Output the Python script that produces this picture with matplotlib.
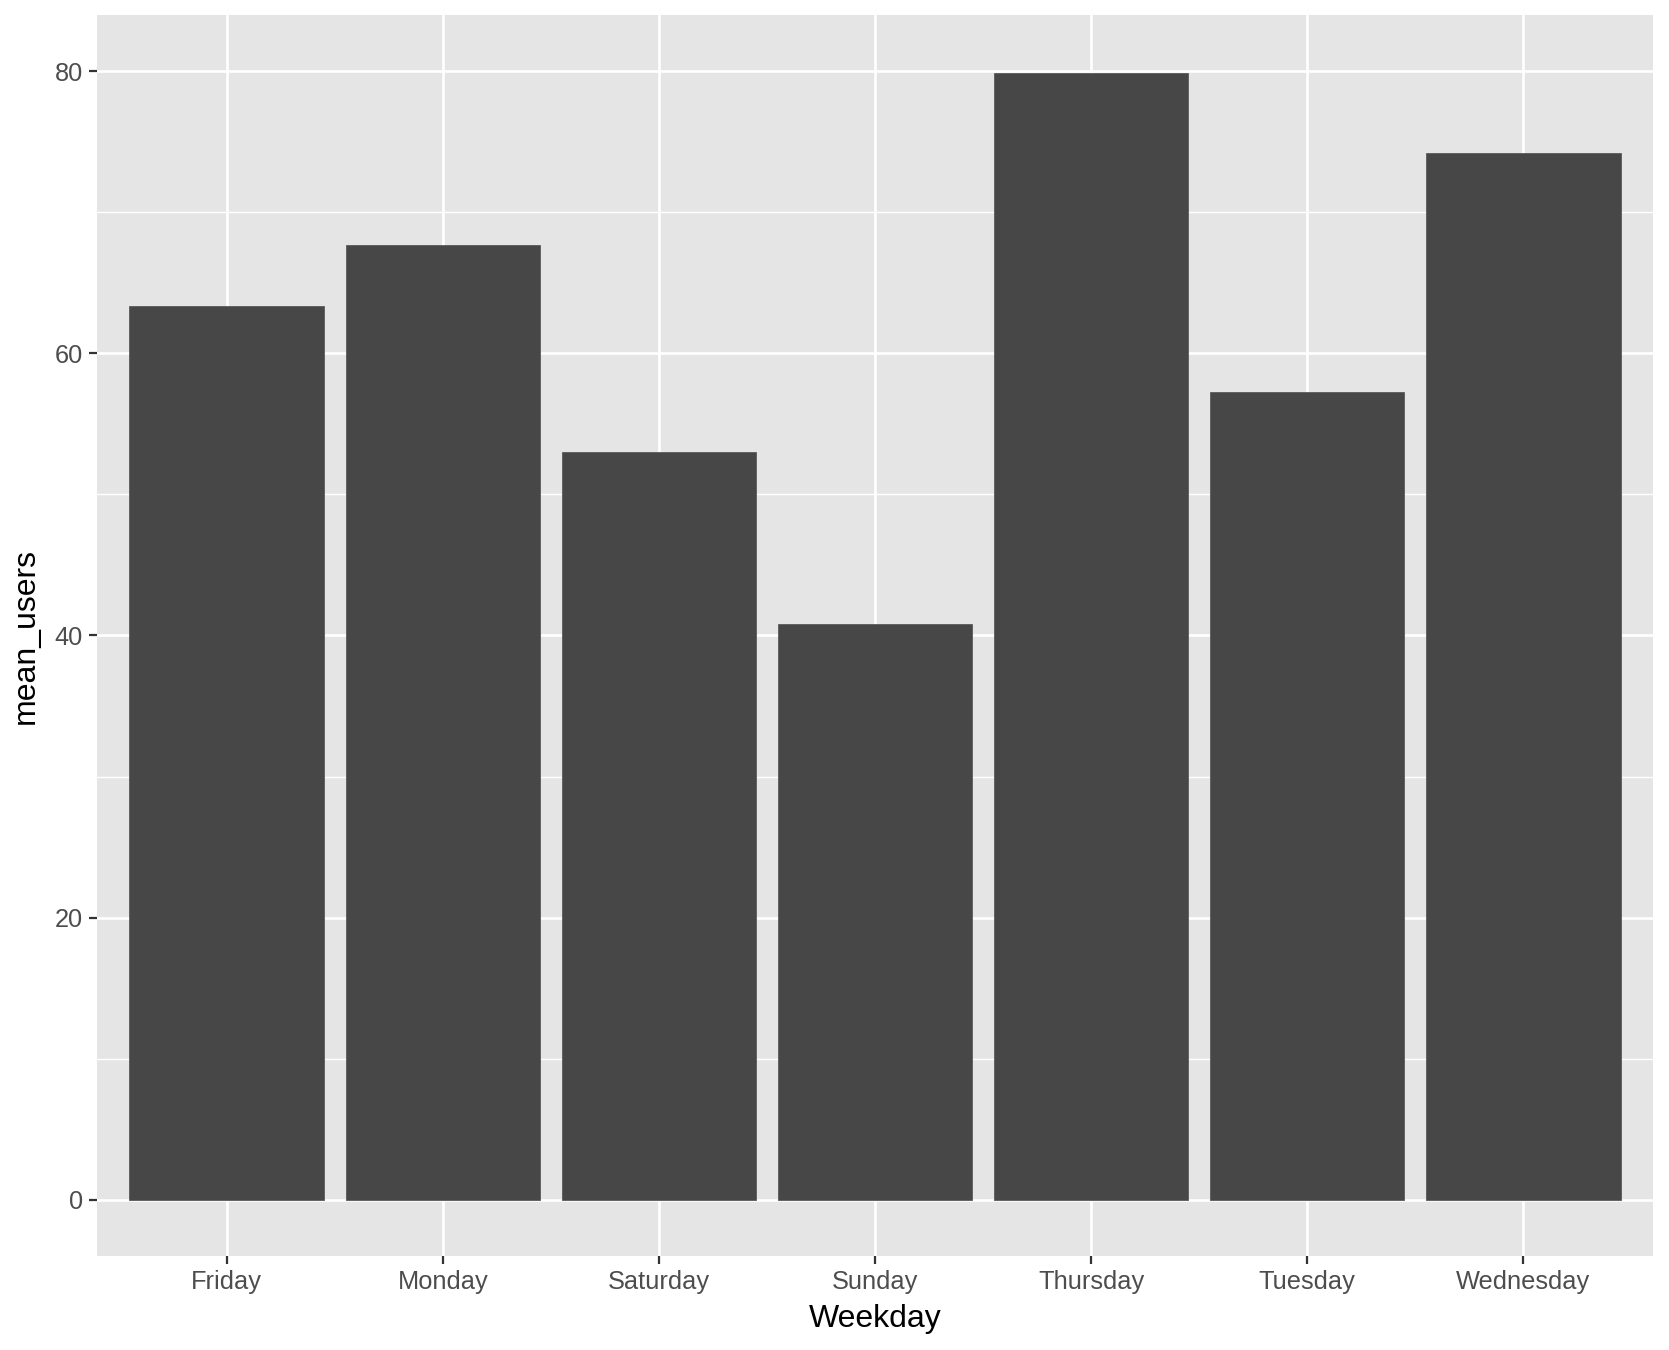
import matplotlib
matplotlib.use("Agg")
import matplotlib.pyplot as plt
from matplotlib.ticker import MultipleLocator

weekdays = ["Friday", "Monday", "Saturday", "Sunday", "Thursday", "Tuesday", "Wednesday"]
mean_users = [63.35, 67.7, 53.0, 40.8, 79.9, 57.3, 74.2]
y_ticks = [0, 20, 40, 60, 80]

plt.rcParams['font.family'] = ['Liberation Sans', 'DejaVu Sans']

fig = plt.figure(figsize=(16.69, 13.5), dpi=100)
ax = fig.add_axes([97/1669, 94/1350, (1653-97)/1669, (1256-15)/1350])
ax.set_facecolor('#E5E5E5')
fig.patch.set_facecolor('white')

x = list(range(1, len(weekdays) + 1))
ax.bar(x, mean_users, width=0.9, color='#474747', edgecolor='#5a5a5a', linewidth=0.6, zorder=3)

ax.set_xlim(0.4, 7.6)
ax.set_ylim(-4, 84)
ax.set_xticks(x)
ax.set_xticklabels(weekdays)
ax.set_yticks(y_ticks)
ax.yaxis.set_minor_locator(MultipleLocator(10))

ax.grid(which='major', color='white', linewidth=1.9, zorder=1)
ax.grid(which='minor', axis='y', color='white', linewidth=1.0, zorder=1)
ax.set_axisbelow(True)
for s in ax.spines.values():
    s.set_visible(False)

ax.tick_params(axis='both', which='major', length=5.7, width=1.6, color='#333333',
               labelsize=18.3, labelcolor='#4D4D4D', pad=4.5)
ax.tick_params(axis='y', which='minor', length=0)

ax.set_xlabel('Weekday', fontsize=23, color='black', labelpad=7)
ax.set_ylabel('mean_users', fontsize=23, color='black', labelpad=10)

fig.savefig('out.png', dpi=100)
